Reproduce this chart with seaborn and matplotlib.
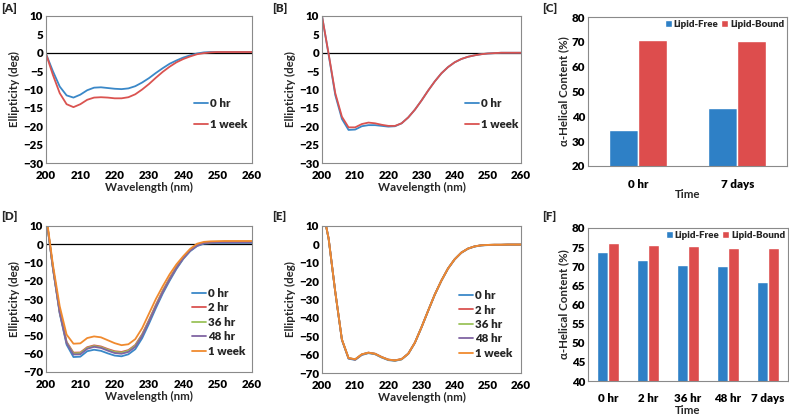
import matplotlib
matplotlib.use("Agg")
import matplotlib.pyplot as plt
import seaborn as sns
import pandas as pd

# wavelength grid (nm) shared by all CD spectra
wavelengths = list(range(200, 261, 2))

# [A]
a_0hr = [-0.3, -5.0, -9.2, -11.6, -12.2, -11.4, -10.2, -9.5, -9.4, -9.6,
         -9.8, -9.9, -9.7, -9.1, -8.1, -6.9, -5.5, -4.2, -3.0, -2.1,
         -1.3, -0.7, -0.2, 0.1, 0.2, 0.2, 0.2, 0.2, 0.2, 0.2, 0.2]
a_1wk = [-0.3, -6.0, -11.0, -14.0, -14.8, -14.0, -12.8, -12.2, -12.1, -12.2,
         -12.4, -12.4, -12.1, -11.3, -10.0, -8.5, -6.8, -5.2, -3.8, -2.6,
         -1.7, -1.0, -0.4, -0.1, 0.1, 0.2, 0.2, 0.2, 0.2, 0.2, 0.2]

# [B]
b_0hr = [10.0, -0.5, -11.5, -18.0, -21.0, -20.9, -20.0, -19.7, -19.7, -19.9,
         -20.1, -20.0, -19.2, -17.6, -15.5, -13.0, -10.3, -7.8, -5.6, -3.9,
         -2.6, -1.7, -1.1, -0.7, -0.4, -0.2, -0.1, 0.0, 0.0, 0.0, 0.0]
b_1wk = [10.0, -0.3, -11.0, -17.4, -20.3, -20.3, -19.4, -19.0, -19.2, -19.6,
         -19.9, -19.9, -19.2, -17.6, -15.5, -13.0, -10.3, -7.8, -5.6, -3.9,
         -2.6, -1.7, -1.1, -0.7, -0.4, -0.2, -0.1, 0.0, 0.0, 0.0, 0.0]

# [D]
d_0hr = [16.0, -13.0, -38.0, -55.0, -61.8, -61.6, -58.6, -57.8, -58.4, -59.8,
         -61.0, -61.4, -60.3, -57.5, -51.5, -43.5, -35.0, -27.0, -20.0, -13.5,
         -8.0, -3.8, -1.0, 0.3, 0.6, 0.7, 0.7, 0.7, 0.7, 0.7, 0.7]
d_2hr = [16.0, -12.5, -37.0, -53.5, -59.4, -59.3, -56.4, -55.4, -56.0, -57.4,
         -58.6, -59.0, -58.0, -55.2, -49.3, -41.5, -33.2, -25.4, -18.6, -12.4,
         -7.2, -3.1, -0.4, 0.8, 1.1, 1.2, 1.2, 1.2, 1.2, 1.2, 1.2]
d_36hr = [16.0, -12.6, -37.2, -53.8, -59.8, -59.7, -56.8, -55.8, -56.4, -57.8,
          -59.0, -59.4, -58.4, -55.6, -49.7, -41.9, -33.6, -25.8, -19.0, -12.8,
          -7.5, -3.3, -0.6, 0.7, 1.0, 1.1, 1.1, 1.1, 1.1, 1.1, 1.1]
d_48hr = [16.0, -12.7, -37.5, -54.2, -60.4, -60.3, -57.3, -56.2, -56.8, -58.3,
          -59.6, -60.0, -59.0, -56.2, -50.2, -42.3, -34.0, -26.2, -19.3, -13.0,
          -7.7, -3.5, -0.8, 0.6, 0.9, 1.0, 1.0, 1.0, 1.0, 1.0, 1.0]
d_1wk = [17.0, -11.0, -34.0, -49.5, -54.5, -54.3, -51.4, -50.5, -51.0, -52.6,
         -54.2, -55.3, -54.8, -52.0, -46.0, -38.0, -30.0, -23.0, -16.5, -11.0,
         -6.5, -2.5, 0.3, 1.3, 1.6, 1.7, 1.8, 1.8, 1.8, 1.8, 1.8]

# [E]
e_0hr = [21.0, 3.0, -26.0, -52.0, -62.2, -62.9, -60.2, -59.2, -59.8, -61.6,
         -63.0, -63.4, -62.6, -59.6, -53.6, -45.2, -36.2, -27.4, -19.8, -13.2,
         -8.2, -4.6, -2.4, -1.2, -0.6, -0.4, -0.3, -0.3, -0.2, -0.2, -0.2]
e_2hr = [21.0, 3.1, -25.9, -51.9, -62.0, -62.7, -60.0, -59.0, -59.6, -61.4,
         -62.8, -63.2, -62.5, -59.5, -53.5, -45.1, -36.1, -27.3, -19.7, -13.1,
         -8.1, -4.5, -2.3, -1.1, -0.5, -0.3, -0.2, -0.2, -0.1, -0.1, -0.1]
e_36hr = [21.0, 3.1, -25.9, -51.8, -61.9, -62.6, -59.9, -59.0, -59.6, -61.4,
          -62.8, -63.2, -62.5, -59.5, -53.5, -45.1, -36.1, -27.3, -19.7, -13.1,
          -8.1, -4.5, -2.3, -1.1, -0.5, -0.3, -0.2, -0.2, -0.1, -0.1, -0.1]
e_48hr = [21.0, 3.2, -25.8, -51.8, -61.9, -62.6, -59.9, -58.9, -59.5, -61.3,
          -62.7, -63.1, -62.4, -59.5, -53.5, -45.1, -36.1, -27.3, -19.7, -13.1,
          -8.1, -4.5, -2.3, -1.1, -0.5, -0.3, -0.2, -0.2, -0.1, -0.1, -0.1]
e_1wk = [21.0, 3.2, -25.8, -51.7, -61.8, -62.5, -59.8, -58.9, -59.5, -61.3,
         -62.7, -63.1, -62.4, -59.5, -53.5, -45.1, -36.1, -27.3, -19.7, -13.1,
         -8.1, -4.5, -2.3, -1.1, -0.5, -0.3, -0.2, -0.2, -0.1, -0.1, -0.1]

# [C] and [F] helical content
c_times = ["0 hr", "7 days"]
c_free = [34.5, 43.3]
c_bound = [70.8, 70.2]

f_times = ["0 hr", "2 hr", "36 hr", "48 hr", "7 days"]
f_free = [73.7, 71.7, 70.3, 70.0, 65.9]
f_bound = [76.0, 75.5, 75.2, 74.9, 74.8]

BLUE = "#3A88C8"
RED = "#DA5350"
GREEN = "#9BC35A"
PURPLE = "#8064A2"
ORANGE = "#F08A2E"
BAR_BLUE = "#2E80C6"
BAR_RED = "#DD4D4D"
SPINE = "#8a8a8a"
FS = 8.3

sns.set_theme(style="white")
plt.rcParams['font.family'] = ['Lato', 'DejaVu Sans']
plt.rcParams['font.weight'] = 'heavy'
plt.rcParams['axes.labelweight'] = 'bold'

W, H = 789, 417
fig = plt.figure(figsize=(W / 100, H / 100), dpi=100)


def px_axes(left, top, right, bottom):
    # axes box given in pixel coordinates of the picture
    return fig.add_axes([left / W, 1 - bottom / H, (right - left) / W, (bottom - top) / H])


def style_axes(ax):
    for sp in ax.spines.values():
        sp.set_color(SPINE)
        sp.set_linewidth(0.8)
    ax.tick_params(direction='in', length=3, width=0.6, color=SPINE,
                   labelsize=FS, pad=2, labelcolor='black')
    ax.tick_params(axis='x', pad=5)


def cd_panel(ax, series, labels, colors, ylim, yticks, zero_line, leg_anchor, leg_spacing):
    rows = []
    for lab, vals in zip(labels, series):
        for w, v in zip(wavelengths, vals):
            rows.append({"Wavelength": w, "Ellipticity": v, "Sample": lab})
    df = pd.DataFrame(rows)
    if zero_line:
        ax.axhline(0, color='black', lw=0.9, zorder=1)
    sns.lineplot(data=df, x="Wavelength", y="Ellipticity", hue="Sample",
                 hue_order=labels, palette=colors, linewidth=1.3, ax=ax, zorder=2)
    ax.set_xlim(200, 260)
    ax.set_ylim(*ylim)
    ax.set_xticks(range(200, 261, 10))
    ax.set_yticks(yticks)
    ax.set_xlabel("Wavelength (nm)", fontsize=FS, labelpad=1)
    ax.set_ylabel("Ellipticity (deg)", fontsize=FS, labelpad=2)
    style_axes(ax)
    ax.legend(loc='center left', bbox_to_anchor=leg_anchor, frameon=False,
              fontsize=FS, handlelength=1.2, handletextpad=0.15,
              labelspacing=leg_spacing, borderpad=0, borderaxespad=0)


def bar_panel(ax, times, free, bound, ylim, yticks, width):
    df = pd.DataFrame({
        "Time": times * 2,
        "Content": free + bound,
        "Type": ["Lipid-Free"] * len(times) + ["Lipid-Bound"] * len(times),
    })
    sns.barplot(data=df, x="Time", y="Content", hue="Type", order=times,
                hue_order=["Lipid-Free", "Lipid-Bound"],
                palette=[BAR_BLUE, BAR_RED], saturation=1, width=width, ax=ax)
    ax.set_ylim(*ylim)
    ax.set_yticks(yticks)
    ax.set_xlim(-0.5, len(times) - 0.5)
    ax.set_xlabel("Time", fontsize=FS, labelpad=0)
    ax.set_ylabel("α-Helical Content (%)", fontsize=FS, labelpad=2)
    style_axes(ax)
    ax.tick_params(axis='x', length=0, pad=9)
    ax.legend(loc='upper right', ncol=2, frameon=False, fontsize=7,
              handlelength=0.7, handleheight=0.7, columnspacing=0.3,
              handletextpad=0.2, borderaxespad=0.3, borderpad=0)


ax_a = px_axes(46, 16, 252, 163)
cd_panel(ax_a, [a_0hr, a_1wk], ["0 hr", "1 week"], [BLUE, RED],
         (-30, 10), range(-30, 11, 5), True, (0.72, 0.335), 0.9)

ax_b = px_axes(322, 16, 521, 163)
cd_panel(ax_b, [b_0hr, b_1wk], ["0 hr", "1 week"], [BLUE, RED],
         (-30, 10), range(-30, 11, 5), True, (0.72, 0.335), 0.9)

ax_c = px_axes(588, 17, 787, 166)
bar_panel(ax_c, c_times, c_free, c_bound, (20, 80), range(20, 81, 10), 0.58)

d_labels = ["0 hr", "2 hr", "36 hr", "48 hr", "1 week"]
ax_d = px_axes(46, 226, 252, 372)
cd_panel(ax_d, [d_0hr, d_2hr, d_36hr, d_48hr, d_1wk], d_labels,
         [BLUE, RED, GREEN, PURPLE, ORANGE],
         (-70, 10), range(-70, 11, 10), True, (0.71, 0.34), 0.3)

ax_e = px_axes(322, 226, 521, 373)
cd_panel(ax_e, [e_0hr, e_2hr, e_36hr, e_48hr, e_1wk], d_labels,
         [BLUE, RED, GREEN, PURPLE, ORANGE],
         (-70, 10), range(-70, 11, 10), False, (0.69, 0.33), 0.3)

ax_f = px_axes(588, 228, 788, 381)
bar_panel(ax_f, f_times, f_free, f_bound, (40, 80), range(40, 81, 5), 0.55)

for lab, x, y in [("[A]", 1, 3), ("[B]", 272, 3), ("[C]", 542, 3),
                  ("[D]", 1, 211), ("[E]", 272, 211), ("[F]", 542, 211)]:
    fig.text(x / W, 1 - y / H, lab, fontsize=8.5, fontweight='heavy', va='top', ha='left')

fig.savefig("out.png", dpi=100)
